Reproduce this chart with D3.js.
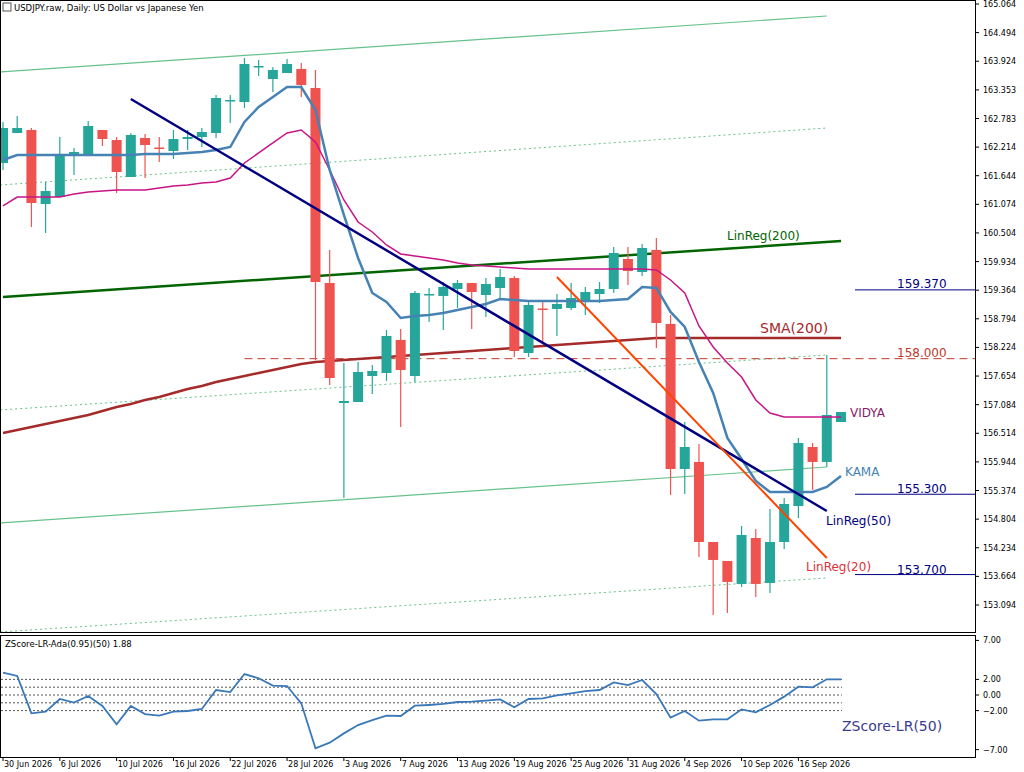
<!DOCTYPE html>
<html><head><meta charset="utf-8">
<script src="https://cdn.jsdelivr.net/npm/d3@7"></script>
<style>body{margin:0;background:#fff}svg{display:block;font-family:Tahoma,"DejaVu Sans",sans-serif}</style>
</head><body><svg id="c" width="1024" height="772"></svg>
<script>
const opens=[161.897,162.495,162.555,161.081,161.220,162.057,162.057,162.555,162.355,161.618,162.395,162.206,162.136,162.375,162.415,162.495,163.132,163.112,163.809,163.570,163.690,163.770,163.391,159.507,157.117,157.137,157.655,157.715,158.372,157.655,159.268,159.249,159.388,159.507,159.268,159.408,159.607,158.113,159.000,158.990,159.010,159.169,159.288,159.388,159.985,159.726,160.165,158.691,155.803,155.943,154.349,153.971,153.513,154.429,153.533,154.349,155.066,156.241,155.943,156.739];
const highs=[162.714,162.833,162.594,161.519,162.415,162.196,162.734,162.555,162.415,162.495,162.475,162.415,162.555,162.555,162.594,163.252,163.252,163.989,163.949,163.809,163.969,163.889,163.750,160.165,157.914,157.934,157.874,158.571,158.591,159.348,159.408,159.527,159.567,159.507,159.607,159.786,159.647,159.129,159.129,159.288,159.507,159.428,159.527,160.224,160.224,160.284,160.404,158.870,156.739,156.301,154.349,153.971,154.668,154.608,155.007,155.226,156.421,156.321,158.074,156.938];
const lows=[161.757,162.495,160.623,160.503,161.220,161.658,162.057,162.236,161.300,161.618,161.599,161.917,161.977,162.156,162.216,162.395,162.694,162.993,163.630,163.311,163.690,163.212,157.974,157.476,155.226,157.137,157.297,157.556,156.640,157.536,158.731,158.571,159.010,158.591,158.830,159.209,158.034,158.034,158.332,158.452,158.970,158.870,159.109,159.308,159.468,159.647,158.213,155.285,155.305,154.051,152.895,152.935,153.453,153.254,153.334,154.210,154.827,155.385,155.843,156.739];
const closes=[162.594,162.594,161.101,161.340,162.077,162.116,162.634,162.375,161.718,162.455,162.256,162.186,162.375,162.415,162.515,163.192,163.152,163.869,163.829,163.750,163.869,163.451,159.527,157.615,157.157,157.735,157.755,158.452,157.775,159.308,159.288,159.428,159.507,159.328,159.487,159.627,158.153,159.069,158.980,159.089,159.209,159.328,159.388,160.105,159.746,160.204,158.711,155.803,156.241,154.349,153.991,153.553,154.489,153.513,154.349,155.106,156.321,155.943,156.879,156.938];
const kama=[161.957,162.057,162.057,162.057,162.057,162.057,162.057,162.057,162.057,162.057,162.077,162.077,162.077,162.097,162.116,162.156,162.216,162.714,163.013,163.212,163.411,163.411,162.953,161.758,160.862,160.006,159.308,159.129,158.811,158.851,158.870,158.910,158.970,159.030,159.089,159.189,159.169,159.149,159.149,159.149,159.149,159.149,159.149,159.169,159.189,159.428,159.408,158.930,158.631,157.934,157.317,156.421,156.002,155.564,155.345,155.345,155.345,155.345,155.445,155.664];
const vidya=[161.041,161.220,161.220,161.220,161.220,161.280,161.320,161.340,161.360,161.360,161.360,161.399,161.439,161.459,161.499,161.519,161.599,161.897,162.097,162.296,162.495,162.555,162.316,161.758,161.161,160.722,160.523,160.264,160.085,160.045,160.006,159.966,159.906,159.866,159.846,159.826,159.806,159.786,159.786,159.786,159.786,159.786,159.786,159.786,159.786,159.786,159.766,159.567,159.308,158.651,158.233,157.914,157.635,157.177,156.918,156.839,156.839,156.839,156.839,156.839];
const sma200=[156.520,156.580,156.640,156.699,156.759,156.819,156.879,156.958,157.038,157.098,157.177,157.237,157.317,157.396,157.456,157.536,157.596,157.655,157.715,157.775,157.835,157.894,157.934,157.954,157.974,157.994,158.014,158.034,158.054,158.074,158.094,158.113,158.133,158.153,158.173,158.193,158.213,158.233,158.253,158.273,158.293,158.313,158.332,158.352,158.372,158.392,158.412,158.412,158.412,158.412,158.412,158.412,158.412,158.412,158.412,158.412,158.412,158.412,158.412,158.412];
const zscore=[2.86,2.44,-2.35,-2.14,-0.51,-0.98,-0.13,-1.41,-3.76,-1.41,-2.44,-2.65,-2.14,-2.05,-1.79,0.64,0.38,2.69,2.14,1.20,1.15,-1.07,-6.84,-6.11,-4.92,-3.85,-3.21,-2.65,-2.69,-1.37,-1.28,-1.15,-0.90,-0.86,-0.73,-0.56,-1.58,-0.51,-0.43,-0.05,0.21,0.51,0.64,1.62,1.28,1.92,0.13,-2.90,-2.05,-3.29,-3.12,-3.12,-1.84,-2.22,-1.28,-0.21,1.07,0.98,2.01,2.01];
// straight lines: [startIndex, startValue, endIndex, endValue]
const linReg200=[0,159.229,59,160.344];
const linReg50=[9,163.172,58,154.967];
const linReg20=[39,159.627,58,154.031];
const channelSolid=[[-0.2,163.710,58,164.825],[-0.2,154.727,58,155.843]];
const channelDotted=[[-0.2,161.459,58,162.594],[-0.2,156.978,58,158.074],[-0.2,152.557,58,153.633]];
const priceTicks=[165.064,164.494,163.924,163.353,162.783,162.214,161.644,161.074,160.504,159.934,159.364,158.794,158.224,157.654,157.084,156.514,155.944,155.374,154.804,154.234,153.664,153.094];
const levels=[{v:159.370,c:"#000080"},{v:155.300,c:"#000080"},{v:153.700,c:"#000080"}];
const dashLevel=158.000;
const dateLabels=["30 Jun 2026","6 Jul 2026","10 Jul 2026","16 Jul 2026","22 Jul 2026","28 Jul 2026","3 Aug 2026","7 Aug 2026","13 Aug 2026","19 Aug 2026","25 Aug 2026","31 Aug 2026","4 Sep 2026","10 Sep 2026","16 Sep 2026"];
const zTicks=[7,2,0,-2,-7];
const zDots=[2,1,0,-1,-2];

const svg=d3.select("#c");
const x=d3.scaleLinear().domain([0,59]).range([3,841]);
const y=d3.scaleLinear().domain([153.094,165.064]).range([605,4]);
const yz=d3.scaleLinear().domain([-7,7]).range([749.6,640.4]);
const G="#26a69a",R="#ef5350";
svg.append("defs").append("clipPath").attr("id","cp").append("rect").attr("x",1).attr("y",1).attr("width",974).attr("height",631);
const main=svg.append("g").attr("clip-path","url(#cp)");
const line=d3.line().x((d,i)=>x(i)).y(d=>y(d));
const seg=(g,s,col,w,dash)=>g.append("line").attr("x1",x(s[0])).attr("y1",y(s[1])).attr("x2",x(s[2])).attr("y2",y(s[3])).attr("stroke",col).attr("stroke-width",w).attr("stroke-dasharray",dash||null);
channelSolid.forEach(s=>seg(main,s,"#66c28a",1.2));
channelDotted.forEach(s=>seg(main,s,"#66c28a",1,"2,3"));
main.append("line").attr("x1",x(17)).attr("x2",975).attr("y1",y(dashLevel)).attr("y2",y(dashLevel)).attr("stroke","#c0392b").attr("stroke-dasharray","8,5");
main.append("path").datum(sma200).attr("d",line).attr("fill","none").attr("stroke","#a52a2a").attr("stroke-width",2.5);
seg(main,linReg200,"#006400",2.5);
// candles
const cg=main.append("g");
opens.forEach((o,i)=>{const c=closes[i],col=c>=o?G:R;
 cg.append("line").attr("x1",x(i)).attr("x2",x(i)).attr("y1",y(highs[i])).attr("y2",y(lows[i])).attr("stroke",col).attr("stroke-width",1.2);
 const t=y(Math.max(o,c)),b=y(Math.min(o,c));
 cg.append("rect").attr("x",x(i)-5).attr("width",10).attr("y",t).attr("height",Math.max(1.5,b-t)).attr("fill",col);});
main.append("path").datum(vidya).attr("d",line).attr("fill","none").attr("stroke","#c71585").attr("stroke-width",1.5);
main.append("path").datum(kama).attr("d",line).attr("fill","none").attr("stroke","#4682b4").attr("stroke-width",2.5);
seg(main,linReg50,"#000080",2.5);
seg(main,linReg20,"#ff4500",2);
levels.forEach(l=>svg.append("line").attr("x1",855).attr("x2",975).attr("y1",y(l.v)).attr("y2",y(l.v)).attr("stroke",l.c));
const txt=(t,xx,yy,col,sz,anchor)=>svg.append("text").attr("x",xx).attr("y",yy).attr("fill",col).attr("font-size",sz).attr("text-anchor",anchor||"start").text(t);
txt(d3.format(".3f")(159.370),897,288,"#000080",12);
txt(d3.format(".3f")(dashLevel),897,357,"#c0392b",12);
txt(d3.format(".3f")(155.300),897,493,"#000080",12);
txt(d3.format(".3f")(153.700),897,574,"#000080",12);
txt("LinReg(200)",727,240,"#006400",12);
txt("SMA(200)",760,333,"#a52a2a",14);
txt("VIDYA",850,417,"#8b1a6b",12);
txt("KAMA",845,476,"#4682b4",12);
txt("LinReg(50)",826,525,"#000080",12);
txt("LinReg(20)",806,571,"#e0303a",12);
// frame & axes
svg.append("rect").attr("x",0.5).attr("y",0.5).attr("width",975).attr("height",632).attr("fill","none").attr("stroke","#000");
svg.append("rect").attr("x",0.5).attr("y",635.5).attr("width",975).attr("height",122).attr("fill","none").attr("stroke","#000");
priceTicks.forEach(p=>{svg.append("line").attr("x1",975).attr("x2",979).attr("y1",y(p)).attr("y2",y(p)).attr("stroke","#000");
 txt(d3.format(".3f")(p),983,y(p)+3,"#000",8);});
txt("USDJPY.raw, Daily:  US Dollar vs Japanese Yen",14,11,"#000",8.5);
svg.append("rect").attr("x",3).attr("y",3).attr("width",8).attr("height",8).attr("fill","#fff").attr("stroke","#555");
// zscore panel
zDots.forEach(v=>svg.append("line").attr("x1",1).attr("x2",842).attr("y1",yz(v)).attr("y2",yz(v)).attr("stroke","#555").attr("stroke-dasharray","2,2"));
svg.append("path").datum(zscore).attr("d",d3.line().x((d,i)=>x(i)).y(d=>yz(d))).attr("fill","none").attr("stroke","#3a78b8").attr("stroke-width",1.8);
zTicks.forEach(v=>{svg.append("line").attr("x1",975).attr("x2",979).attr("y1",yz(v)).attr("y2",yz(v)).attr("stroke","#000");
 txt(d3.format(".2f")(v),983,yz(v)+3,"#000",8);});
txt("ZScore-LR-Ada(0.95)(50) 1.88",5,647,"#000",8.5);
txt("ZScore-LR(50)",842,731,"#3b3b8f",14);
dateLabels.forEach((d,k)=>{const xx=x(k*4);svg.append("line").attr("x1",xx).attr("x2",xx).attr("y1",757).attr("y2",761).attr("stroke","#000");
 txt(d,xx+1,767,"#000",8);});
</script></body></html>
